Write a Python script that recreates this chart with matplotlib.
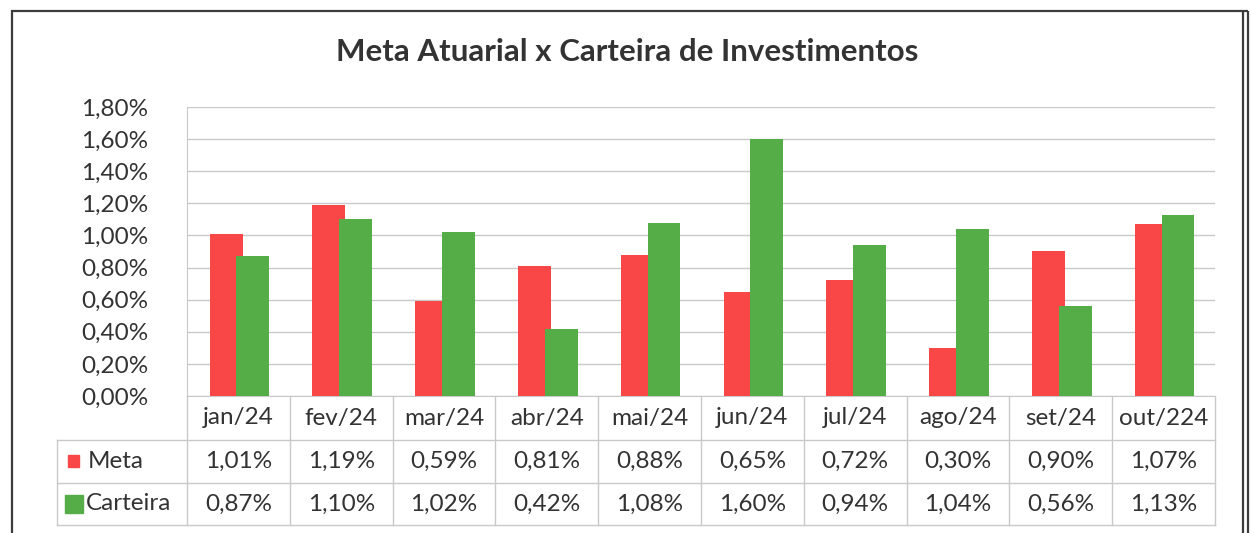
import numpy as np
import matplotlib
matplotlib.use("Agg")
import matplotlib.pyplot as plt
from matplotlib.patches import Rectangle
from matplotlib.transforms import blended_transform_factory

# --- data ---
months = ["jan/24", "fev/24", "mar/24", "abr/24", "mai/24",
          "jun/24", "jul/24", "ago/24", "set/24", "out/224"]
meta = [1.01, 1.19, 0.59, 0.81, 0.88, 0.65, 0.72, 0.30, 0.90, 1.07]
carteira = [0.87, 1.10, 1.02, 0.42, 1.08, 1.60, 0.94, 1.04, 0.56, 1.13]
series_names = ["Meta", "Carteira"]
y_ticks = [0.0, 0.2, 0.4, 0.6, 0.8, 1.0, 1.2, 1.4, 1.6, 1.8]
title = "Meta Atuarial x Carteira de Investimentos"

RED = "#f94747"
GREEN = "#54ad47"
GRID = "#c9c9c9"
TXT = "#333333"
FONT = "Lato"
FS = 17.5

W, H = 1251, 533
fig = plt.figure(figsize=(W / 100, H / 100), dpi=100)
fig.patch.set_facecolor("white")
plt.rcParams["font.family"] = [FONT, "DejaVu Sans"]

def pct(v):
    return f"{v:.2f}%".replace(".", ",")

# overlay in pixel coordinates for frame, title and legend keys
ov = fig.add_axes([0, 0, 1, 1])
ov.set_xlim(0, W)
ov.set_ylim(H, 0)
ov.axis("off")

frame_kw = dict(color="#3c3c3c", lw=1.6, solid_capstyle="butt")
ov.plot([12, 12], [10, H], **frame_kw)
ov.plot([11, 1248], [11, 11], **frame_kw)
ov.plot([1243, 1243], [11, H], **frame_kw)
ov.plot([1247.5, 1247.5], [11, H], **frame_kw)

ov.text(627, 52, title, ha="center", va="center", fontsize=22.5,
        fontweight="bold", color=TXT)

# plot area
L, T, R, B = 187, 107, 1215, 396
ax = fig.add_axes([L / W, 1 - B / H, (R - L) / W, (B - T) / H])
x = np.arange(len(months))
ax.bar(x - 0.12, meta, 0.32, color=RED, zorder=3)
ax.bar(x + 0.14, carteira, 0.32, color=GREEN, zorder=3)
ax.set_xlim(-0.5, len(months) - 0.5)
ax.set_ylim(0, 1.8)
ax.set_yticks(y_ticks)
ax.set_yticklabels([pct(v) for v in y_ticks], fontsize=FS, color=TXT)
ax.tick_params(axis="y", length=0, pad=28)
ax.set_xticks([])
ax.grid(axis="y", color=GRID, lw=1, zorder=0)
for s in ["top", "right"]:
    ax.spines[s].set_visible(False)
ax.spines["left"].set_color(GRID)
ax.spines["bottom"].set_color(GRID)

# data table beneath the plot
tr = blended_transform_factory(ax.transData, ax.transAxes)
col_w = (R - L) / len(months)
def ay(py):
    return (B - py) / (B - T)
x_left = -0.5 + (57 - L) / col_w
rows = [396, 440, 483, 525]
line_kw = dict(color=GRID, lw=1, transform=tr, clip_on=False)
for k in range(len(months) + 1):
    ax.plot([k - 0.5, k - 0.5], [ay(rows[0]), ay(rows[-1])], **line_kw)
ax.plot([x_left, x_left], [ay(rows[1]), ay(rows[-1])], **line_kw)
for r in rows[1:]:
    ax.plot([x_left, len(months) - 0.5], [ay(r), ay(r)], **line_kw)

for i, m in enumerate(months):
    ax.text(i, ay((rows[0] + rows[1]) / 2), m, transform=tr, ha="center",
            va="center", fontsize=FS, color=TXT)
    ax.text(i, ay((rows[1] + rows[2]) / 2), pct(meta[i]), transform=tr,
            ha="center", va="center", fontsize=FS, color=TXT)
    ax.text(i, ay((rows[2] + rows[3]) / 2), pct(carteira[i]), transform=tr,
            ha="center", va="center", fontsize=FS, color=TXT)

# legend keys in the table's first column
ov.add_patch(Rectangle((68, 455), 11, 12, color=RED))
ov.add_patch(Rectangle((65, 495), 18, 18, color=GREEN))
ov.text(88, (rows[1] + rows[2]) / 2, series_names[0], ha="left", va="center",
        fontsize=FS, color=TXT)
ov.text(86, (rows[2] + rows[3]) / 2, series_names[1], ha="left", va="center",
        fontsize=FS, color=TXT)

fig.savefig("out.png", dpi=100)
